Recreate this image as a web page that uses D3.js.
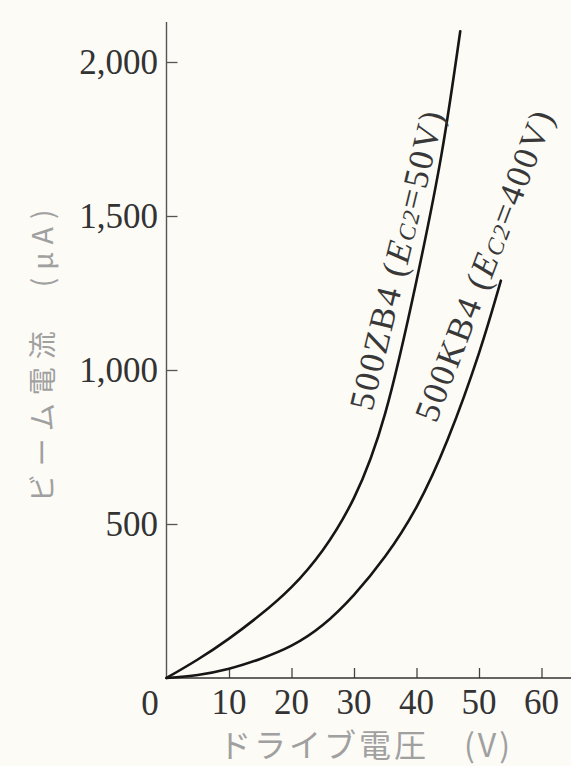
<!DOCTYPE html>
<html>
<head>
<meta charset="utf-8">
<script src="https://cdn.jsdelivr.net/npm/d3@7"></script>
<style>
  html, body { margin: 0; padding: 0; background: #fcfbf6; }
  svg { display: block; }
</style>
</head>
<body>
<script>
// ---- data ----
const xTicks = [10, 20, 30, 40, 50, 60];
const yTicks = [500, 1000, 1500, 2000];
const yTickLabels = ["500", "1,000", "1,500", "2,000"];

const zbVolts   = [0, 5, 10, 15, 20, 25, 30, 35, 40, 44, 47];
const zbCurrent = [0, 60, 128, 205, 295, 415, 585, 860, 1290, 1700, 2100];

const kbVolts   = [0, 5, 10, 15, 20, 25, 30, 35, 40, 45, 50, 53.5];
const kbCurrent = [0, 10, 30, 62, 105, 172, 270, 395, 555, 775, 1055, 1290];

const xTitle = "ドライブ電圧　(V)";
const yTitle = "ビーム電流　(μA)";

// ---- layout ----
const W = 571, H = 766;
const svg = d3.select("body").append("svg").attr("width", W).attr("height", H);
svg.append("rect").attr("width", W).attr("height", H).attr("fill", "#fcfbf6");

const x = d3.scaleLinear().domain([0, 64.72]).range([166.5, 571]);
const y = d3.scaleLinear().domain([0, 2000]).range([678, 62]);

const serif = "'Liberation Serif', 'DejaVu Serif', serif";
const cjk = "'Noto Sans CJK JP', sans-serif";

// axes
const xAxis = d3.axisBottom(x).tickValues(xTicks).tickSize(-10).tickFormat("");
const gx = svg.append("g").attr("transform", `translate(0,${y(0)})`).call(xAxis);
gx.select(".domain").remove();
gx.selectAll(".tick line").attr("stroke", "#444").attr("stroke-width", 1.3);
gx.append("line").attr("x1", x(0)).attr("x2", W).attr("y1", 0).attr("y2", 0)
  .attr("stroke", "#333").attr("stroke-width", 1.6);

const yAxis = d3.axisLeft(y).tickValues(yTicks).tickSize(-11).tickFormat("");
const gy = svg.append("g").attr("transform", `translate(${x(0)},0)`).call(yAxis);
gy.select(".domain").remove();
gy.selectAll(".tick line").attr("stroke", "#555").attr("stroke-width", 1.3);
gy.append("line").attr("x1", 0).attr("x2", 0).attr("y1", y(0)).attr("y2", y(2130))
  .attr("stroke", "#555").attr("stroke-width", 1.4);

// tick labels
svg.selectAll(".ylab").data(yTicks).enter().append("text")
  .attr("x", 158).attr("y", d => y(d) + 12)
  .attr("text-anchor", "end")
  .attr("font-family", serif).attr("font-size", 35).attr("fill", "#333")
  .text((d, i) => yTickLabels[i]);

svg.selectAll(".xlab").data(xTicks).enter().append("text")
  .attr("x", d => x(d)).attr("y", 714)
  .attr("text-anchor", "middle")
  .attr("font-family", serif).attr("font-size", 35).attr("fill", "#333")
  .text(d => d);

svg.append("text").attr("x", 150).attr("y", 715).attr("text-anchor", "middle")
  .attr("font-family", serif).attr("font-size", 35).attr("fill", "#333").text("0");

// titles
svg.append("text").attr("x", 366).attr("y", 757).attr("text-anchor", "middle")
  .attr("font-family", cjk).attr("font-size", 32).attr("fill", "#a0a0a0")
  .attr("letter-spacing", 3).text(xTitle);

svg.append("text").attr("transform", `translate(53,352) rotate(-90)`)
  .attr("text-anchor", "middle")
  .attr("font-family", cjk).attr("font-size", 28).attr("fill", "#a0a0a0")
  .attr("letter-spacing", 8).text(yTitle);

// curves
const line = d3.line().x(d => x(d[0])).y(d => y(d[1])).curve(d3.curveNatural);
const zb = zbVolts.map((v, i) => [v, zbCurrent[i]]);
const kb = kbVolts.map((v, i) => [v, kbCurrent[i]]);
[zb, kb].forEach(s => {
  svg.append("path").datum(s).attr("d", line)
    .attr("fill", "none").attr("stroke", "#161616").attr("stroke-width", 2.6)
    .attr("stroke-linecap", "round");
});

// curve labels
function curveLabel(px, py, ang, model, volts) {
  const t = svg.append("text").attr("transform", `translate(${px},${py}) rotate(${ang})`)
    .attr("font-family", serif).attr("font-size", 35).attr("fill", "#383838")
    .attr("letter-spacing", 2);
  t.append("tspan").text(model + " (");
  t.append("tspan").attr("font-style", "italic").text("E");
  t.append("tspan").attr("font-style", "italic").attr("font-size", 24).text("C2");
  t.append("tspan").text("=" + volts + ")");
}
curveLabel(372, 412, -76.4, "500ZB4", "50V");
curveLabel(436, 424, -69, "500KB4", "400V");
</script>
</body>
</html>
